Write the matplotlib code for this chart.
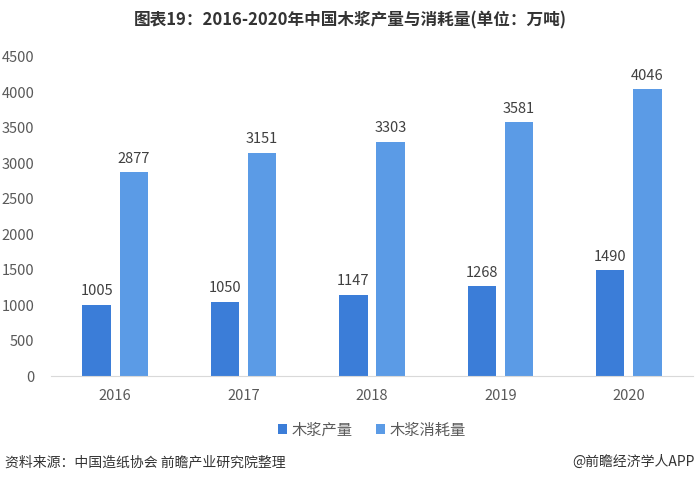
import numpy as np
import matplotlib.pyplot as plt

plt.rcParams['font.family'] = ['Noto Sans CJK SC', 'DejaVu Sans']

years = ['2016', '2017', '2018', '2019', '2020']
production = [1005, 1050, 1147, 1268, 1490]
consumption = [2877, 3151, 3303, 3581, 4046]

c_prod = '#3B7DD8'
c_cons = '#5B9BE6'

fig = plt.figure(figsize=(7, 4.82), dpi=100)
ax = fig.add_axes([51 / 700, 1 - 376 / 482, 642 / 700, 319 / 482])

x = np.arange(len(years))
w = 0.22
off = 0.145
b1 = ax.bar(x - off, production, w, color=c_prod, label='木浆产量')
b2 = ax.bar(x + off, consumption, w, color=c_cons, label='木浆消耗量')

for bars in (b1, b2):
    for b in bars:
        ax.text(b.get_x() + b.get_width() / 2, b.get_height() + 90,
                f'{int(b.get_height())}', ha='center', va='bottom',
                fontsize=10.5, color='#404040')

ax.set_xlim(-0.5, 4.5)
ax.set_ylim(0, 4500)
ax.set_yticks(range(0, 4501, 500))
ax.set_xticks(x)
ax.set_xticklabels(years)
ax.tick_params(axis='both', length=0, labelsize=10.5, colors='#595959')
ax.tick_params(axis='y', pad=12)
ax.tick_params(axis='x', pad=9)
for s in ['top', 'right', 'left']:
    ax.spines[s].set_visible(False)
ax.spines['bottom'].set_color('#D9D9D9')

fig.text(0.5, 1 - 20 / 482, '图表19：2016-2020年中国木浆产量与消耗量(单位：万吨)',
         ha='center', va='center', fontsize=12, fontweight='bold', color='#333333')

ax.legend(loc='center', bbox_to_anchor=(0.5 - 1 / 700 * 0, (376 - 430) / 319 * -1 * -1),
          ncol=2, frameon=False, fontsize=11, handlelength=0.6, handleheight=0.6,
          handletextpad=0.3, columnspacing=1.5, labelcolor='#595959')

fig.text(5 / 700, 1 - 462 / 482, '资料来源：中国造纸协会 前瞻产业研究院整理',
         ha='left', va='center', fontsize=10, color='#333333')
fig.text(695 / 700, 1 - 462 / 482, '@前瞻经济学人APP',
         ha='right', va='center', fontsize=10, color='#333333')

fig.savefig('out.png', dpi=100)
